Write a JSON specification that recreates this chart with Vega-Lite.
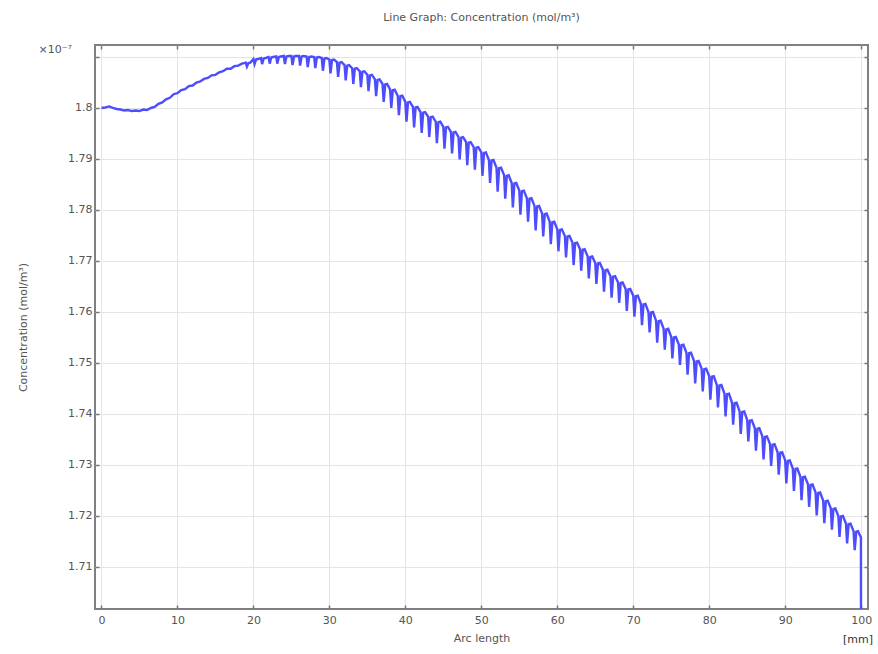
{
  "$schema": "https://vega.github.io/schema/vega-lite/v6.json",
  "width": 773,
  "height": 564,
  "autosize": {"type": "none"},
  "padding": {"left": 95, "top": 45, "right": 10, "bottom": 45},
  "background": "#ffffff",
  "title": {
    "text": "Line Graph: Concentration (mol/m³)",
    "font": "DejaVu Sans",
    "fontSize": 11,
    "fontWeight": "normal",
    "color": "#555555",
    "anchor": "middle",
    "offset": 19
  },
  "config": {
    "view": {"stroke": "#808080", "strokeWidth": 2},
    "axis": {
      "labelFont": "DejaVu Sans",
      "labelFontSize": 11,
      "labelColor": "#555555",
      "titleFont": "DejaVu Sans",
      "titleFontSize": 11,
      "titleFontWeight": "normal",
      "titleColor": "#555555",
      "domain": false,
      "gridColor": "#e4e4e4",
      "gridWidth": 1,
      "tickColor": "#777777",
      "tickWidth": 1.5,
      "tickSize": -4
    }
  },
  "datasets": {
    "profile": [
      {"x": 0, "c": 1.8000}, {"x": 0.5, "c": 1.8001}, {"x": 1.0, "c": 1.8003}, {"x": 1.5, "c": 1.8000},
      {"x": 2.0, "c": 1.7998}, {"x": 2.5, "c": 1.7997}, {"x": 3.0, "c": 1.7995}, {"x": 3.5, "c": 1.7996},
      {"x": 4.0, "c": 1.7994}, {"x": 4.5, "c": 1.7995}, {"x": 5.0, "c": 1.7994}, {"x": 5.5, "c": 1.7997},
      {"x": 6.0, "c": 1.7996}, {"x": 6.5, "c": 1.8000}, {"x": 7.0, "c": 1.8002}, {"x": 7.5, "c": 1.8008},
      {"x": 8.0, "c": 1.8011}, {"x": 8.5, "c": 1.8017}, {"x": 9.0, "c": 1.8020}, {"x": 9.5, "c": 1.8027},
      {"x": 10.0, "c": 1.8029}, {"x": 10.5, "c": 1.8035}, {"x": 11.0, "c": 1.8037}, {"x": 11.5, "c": 1.8043},
      {"x": 12.0, "c": 1.8044}, {"x": 12.5, "c": 1.8050}, {"x": 13.0, "c": 1.8052}, {"x": 13.5, "c": 1.8057},
      {"x": 14.0, "c": 1.8059}, {"x": 14.5, "c": 1.8064}, {"x": 15.0, "c": 1.8065}, {"x": 15.5, "c": 1.8070},
      {"x": 16.0, "c": 1.8072}, {"x": 16.5, "c": 1.8077}, {"x": 17.0, "c": 1.8077}, {"x": 17.5, "c": 1.8082},
      {"x": 18.0, "c": 1.8083}, {"x": 18.5, "c": 1.8087},
      {"x": 19, "c": 1.8089}, {"x": 19.15, "c": 1.8081}, {"x": 19.35, "c": 1.8088}, {"x": 19.6, "c": 1.8089},
      {"x": 20, "c": 1.8096}, {"x": 20.15, "c": 1.8086}, {"x": 20.35, "c": 1.8095}, {"x": 20.6, "c": 1.8096},
      {"x": 21, "c": 1.8098}, {"x": 21.15, "c": 1.8086}, {"x": 21.35, "c": 1.8097}, {"x": 21.6, "c": 1.8098},
      {"x": 22, "c": 1.8100}, {"x": 22.15, "c": 1.8087}, {"x": 22.35, "c": 1.8099}, {"x": 22.6, "c": 1.8100},
      {"x": 23, "c": 1.8101}, {"x": 23.15, "c": 1.8087}, {"x": 23.35, "c": 1.8100}, {"x": 23.6, "c": 1.8101},
      {"x": 24, "c": 1.8102}, {"x": 24.15, "c": 1.8086}, {"x": 24.35, "c": 1.8101}, {"x": 24.6, "c": 1.8102},
      {"x": 25, "c": 1.8102}, {"x": 25.15, "c": 1.8084}, {"x": 25.35, "c": 1.8101}, {"x": 25.6, "c": 1.8102},
      {"x": 26, "c": 1.8102}, {"x": 26.15, "c": 1.8083}, {"x": 26.35, "c": 1.8101}, {"x": 26.6, "c": 1.8102},
      {"x": 27, "c": 1.8101}, {"x": 27.15, "c": 1.8080}, {"x": 27.35, "c": 1.8100}, {"x": 27.6, "c": 1.8101},
      {"x": 28, "c": 1.8100}, {"x": 28.15, "c": 1.8078}, {"x": 28.35, "c": 1.8099}, {"x": 28.6, "c": 1.8100},
      {"x": 29, "c": 1.8098}, {"x": 29.15, "c": 1.8073}, {"x": 29.35, "c": 1.8097}, {"x": 29.6, "c": 1.8098},
      {"x": 30, "c": 1.8095}, {"x": 30.15, "c": 1.8068}, {"x": 30.35, "c": 1.8094}, {"x": 30.6, "c": 1.8095},
      {"x": 31, "c": 1.8090}, {"x": 31.15, "c": 1.8061}, {"x": 31.35, "c": 1.8089}, {"x": 31.6, "c": 1.8090},
      {"x": 32, "c": 1.8084}, {"x": 32.15, "c": 1.8054}, {"x": 32.35, "c": 1.8083}, {"x": 32.6, "c": 1.8084},
      {"x": 33, "c": 1.8078}, {"x": 33.15, "c": 1.8047}, {"x": 33.35, "c": 1.8077}, {"x": 33.6, "c": 1.8078},
      {"x": 34, "c": 1.8072}, {"x": 34.15, "c": 1.8041}, {"x": 34.35, "c": 1.8071}, {"x": 34.6, "c": 1.8072},
      {"x": 35, "c": 1.8065}, {"x": 35.15, "c": 1.8033}, {"x": 35.35, "c": 1.8064}, {"x": 35.6, "c": 1.8065},
      {"x": 36, "c": 1.8056}, {"x": 36.15, "c": 1.8023}, {"x": 36.35, "c": 1.8055}, {"x": 36.6, "c": 1.8056},
      {"x": 37, "c": 1.8047}, {"x": 37.15, "c": 1.8012}, {"x": 37.35, "c": 1.8046}, {"x": 37.6, "c": 1.8047},
      {"x": 38, "c": 1.8036}, {"x": 38.15, "c": 1.8000}, {"x": 38.35, "c": 1.8035}, {"x": 38.6, "c": 1.8036},
      {"x": 39, "c": 1.8024}, {"x": 39.15, "c": 1.7986}, {"x": 39.35, "c": 1.8023}, {"x": 39.6, "c": 1.8024},
      {"x": 40, "c": 1.8012}, {"x": 40.15, "c": 1.7973}, {"x": 40.35, "c": 1.8011}, {"x": 40.6, "c": 1.8012},
      {"x": 41, "c": 1.8002}, {"x": 41.15, "c": 1.7962}, {"x": 41.35, "c": 1.8001}, {"x": 41.6, "c": 1.8002},
      {"x": 42, "c": 1.7992}, {"x": 42.15, "c": 1.7951}, {"x": 42.35, "c": 1.7991}, {"x": 42.6, "c": 1.7992},
      {"x": 43, "c": 1.7983}, {"x": 43.15, "c": 1.7943}, {"x": 43.35, "c": 1.7982}, {"x": 43.6, "c": 1.7983},
      {"x": 44, "c": 1.7973}, {"x": 44.15, "c": 1.7931}, {"x": 44.35, "c": 1.7972}, {"x": 44.6, "c": 1.7973},
      {"x": 45, "c": 1.7963}, {"x": 45.15, "c": 1.7920}, {"x": 45.35, "c": 1.7962}, {"x": 45.6, "c": 1.7963},
      {"x": 46, "c": 1.7953}, {"x": 46.15, "c": 1.7911}, {"x": 46.35, "c": 1.7952}, {"x": 46.6, "c": 1.7953},
      {"x": 47, "c": 1.7943}, {"x": 47.15, "c": 1.7899}, {"x": 47.35, "c": 1.7942}, {"x": 47.6, "c": 1.7943},
      {"x": 48, "c": 1.7933}, {"x": 48.15, "c": 1.7888}, {"x": 48.35, "c": 1.7932}, {"x": 48.6, "c": 1.7933},
      {"x": 49, "c": 1.7923}, {"x": 49.15, "c": 1.7879}, {"x": 49.35, "c": 1.7922}, {"x": 49.6, "c": 1.7923},
      {"x": 50, "c": 1.7913}, {"x": 50.15, "c": 1.7867}, {"x": 50.35, "c": 1.7912}, {"x": 50.6, "c": 1.7913},
      {"x": 51, "c": 1.7898}, {"x": 51.15, "c": 1.7853}, {"x": 51.35, "c": 1.7897}, {"x": 51.6, "c": 1.7898},
      {"x": 52, "c": 1.7883}, {"x": 52.15, "c": 1.7836}, {"x": 52.35, "c": 1.7882}, {"x": 52.6, "c": 1.7883},
      {"x": 53, "c": 1.7868}, {"x": 53.15, "c": 1.7822}, {"x": 53.35, "c": 1.7867}, {"x": 53.6, "c": 1.7868},
      {"x": 54, "c": 1.7853}, {"x": 54.15, "c": 1.7805}, {"x": 54.35, "c": 1.7852}, {"x": 54.6, "c": 1.7853},
      {"x": 55, "c": 1.7838}, {"x": 55.15, "c": 1.7791}, {"x": 55.35, "c": 1.7837}, {"x": 55.6, "c": 1.7838},
      {"x": 56, "c": 1.7823}, {"x": 56.15, "c": 1.7777}, {"x": 56.35, "c": 1.7822}, {"x": 56.6, "c": 1.7823},
      {"x": 57, "c": 1.7808}, {"x": 57.15, "c": 1.7760}, {"x": 57.35, "c": 1.7807}, {"x": 57.6, "c": 1.7808},
      {"x": 58, "c": 1.7793}, {"x": 58.15, "c": 1.7748}, {"x": 58.35, "c": 1.7792}, {"x": 58.6, "c": 1.7793},
      {"x": 59, "c": 1.7777}, {"x": 59.15, "c": 1.7733}, {"x": 59.35, "c": 1.7776}, {"x": 59.6, "c": 1.7777},
      {"x": 60, "c": 1.7762}, {"x": 60.15, "c": 1.7719}, {"x": 60.35, "c": 1.7761}, {"x": 60.6, "c": 1.7762},
      {"x": 61, "c": 1.7749}, {"x": 61.15, "c": 1.7707}, {"x": 61.35, "c": 1.7748}, {"x": 61.6, "c": 1.7749},
      {"x": 62, "c": 1.7736}, {"x": 62.15, "c": 1.7692}, {"x": 62.35, "c": 1.7735}, {"x": 62.6, "c": 1.7736},
      {"x": 63, "c": 1.7723}, {"x": 63.15, "c": 1.7681}, {"x": 63.35, "c": 1.7722}, {"x": 63.6, "c": 1.7723},
      {"x": 64, "c": 1.7709}, {"x": 64.15, "c": 1.7666}, {"x": 64.35, "c": 1.7708}, {"x": 64.6, "c": 1.7709},
      {"x": 65, "c": 1.7696}, {"x": 65.15, "c": 1.7655}, {"x": 65.35, "c": 1.7695}, {"x": 65.6, "c": 1.7696},
      {"x": 66, "c": 1.7683}, {"x": 66.15, "c": 1.7640}, {"x": 66.35, "c": 1.7682}, {"x": 66.6, "c": 1.7683},
      {"x": 67, "c": 1.7670}, {"x": 67.15, "c": 1.7628}, {"x": 67.35, "c": 1.7669}, {"x": 67.6, "c": 1.7670},
      {"x": 68, "c": 1.7658}, {"x": 68.15, "c": 1.7618}, {"x": 68.35, "c": 1.7657}, {"x": 68.6, "c": 1.7658},
      {"x": 69, "c": 1.7645}, {"x": 69.15, "c": 1.7602}, {"x": 69.35, "c": 1.7644}, {"x": 69.6, "c": 1.7645},
      {"x": 70, "c": 1.7632}, {"x": 70.15, "c": 1.7591}, {"x": 70.35, "c": 1.7631}, {"x": 70.6, "c": 1.7632},
      {"x": 71, "c": 1.7616}, {"x": 71.15, "c": 1.7574}, {"x": 71.35, "c": 1.7615}, {"x": 71.6, "c": 1.7616},
      {"x": 72, "c": 1.7600}, {"x": 72.15, "c": 1.7560}, {"x": 72.35, "c": 1.7599}, {"x": 72.6, "c": 1.7600},
      {"x": 73, "c": 1.7583}, {"x": 73.15, "c": 1.7540}, {"x": 73.35, "c": 1.7582}, {"x": 73.6, "c": 1.7583},
      {"x": 74, "c": 1.7567}, {"x": 74.15, "c": 1.7526}, {"x": 74.35, "c": 1.7566}, {"x": 74.6, "c": 1.7567},
      {"x": 75, "c": 1.7551}, {"x": 75.15, "c": 1.7509}, {"x": 75.35, "c": 1.7550}, {"x": 75.6, "c": 1.7551},
      {"x": 76, "c": 1.7536}, {"x": 76.15, "c": 1.7496}, {"x": 76.35, "c": 1.7535}, {"x": 76.6, "c": 1.7536},
      {"x": 77, "c": 1.7520}, {"x": 77.15, "c": 1.7477}, {"x": 77.35, "c": 1.7519}, {"x": 77.6, "c": 1.7520},
      {"x": 78, "c": 1.7504}, {"x": 78.15, "c": 1.7460}, {"x": 78.35, "c": 1.7503}, {"x": 78.6, "c": 1.7504},
      {"x": 79, "c": 1.7489}, {"x": 79.15, "c": 1.7444}, {"x": 79.35, "c": 1.7488}, {"x": 79.6, "c": 1.7489},
      {"x": 80, "c": 1.7474}, {"x": 80.15, "c": 1.7428}, {"x": 80.35, "c": 1.7473}, {"x": 80.6, "c": 1.7474},
      {"x": 81, "c": 1.7457}, {"x": 81.15, "c": 1.7413}, {"x": 81.35, "c": 1.7456}, {"x": 81.6, "c": 1.7457},
      {"x": 82, "c": 1.7440}, {"x": 82.15, "c": 1.7395}, {"x": 82.35, "c": 1.7439}, {"x": 82.6, "c": 1.7440},
      {"x": 83, "c": 1.7422}, {"x": 83.15, "c": 1.7379}, {"x": 83.35, "c": 1.7421}, {"x": 83.6, "c": 1.7422},
      {"x": 84, "c": 1.7405}, {"x": 84.15, "c": 1.7361}, {"x": 84.35, "c": 1.7404}, {"x": 84.6, "c": 1.7405},
      {"x": 85, "c": 1.7388}, {"x": 85.15, "c": 1.7346}, {"x": 85.35, "c": 1.7387}, {"x": 85.6, "c": 1.7388},
      {"x": 86, "c": 1.7372}, {"x": 86.15, "c": 1.7328}, {"x": 86.35, "c": 1.7371}, {"x": 86.6, "c": 1.7372},
      {"x": 87, "c": 1.7356}, {"x": 87.15, "c": 1.7311}, {"x": 87.35, "c": 1.7355}, {"x": 87.6, "c": 1.7356},
      {"x": 88, "c": 1.7341}, {"x": 88.15, "c": 1.7298}, {"x": 88.35, "c": 1.7340}, {"x": 88.6, "c": 1.7341},
      {"x": 89, "c": 1.7325}, {"x": 89.15, "c": 1.7281}, {"x": 89.35, "c": 1.7324}, {"x": 89.6, "c": 1.7325},
      {"x": 90, "c": 1.7309}, {"x": 90.15, "c": 1.7264}, {"x": 90.35, "c": 1.7308}, {"x": 90.6, "c": 1.7309},
      {"x": 91, "c": 1.7293}, {"x": 91.15, "c": 1.7249}, {"x": 91.35, "c": 1.7292}, {"x": 91.6, "c": 1.7293},
      {"x": 92, "c": 1.7277}, {"x": 92.15, "c": 1.7231}, {"x": 92.35, "c": 1.7276}, {"x": 92.6, "c": 1.7277},
      {"x": 93, "c": 1.7262}, {"x": 93.15, "c": 1.7218}, {"x": 93.35, "c": 1.7261}, {"x": 93.6, "c": 1.7262},
      {"x": 94, "c": 1.7246}, {"x": 94.15, "c": 1.7201}, {"x": 94.35, "c": 1.7245}, {"x": 94.6, "c": 1.7246},
      {"x": 95, "c": 1.7230}, {"x": 95.15, "c": 1.7186}, {"x": 95.35, "c": 1.7229}, {"x": 95.6, "c": 1.7230},
      {"x": 96, "c": 1.7215}, {"x": 96.15, "c": 1.7173}, {"x": 96.35, "c": 1.7214}, {"x": 96.6, "c": 1.7215},
      {"x": 97, "c": 1.7200}, {"x": 97.15, "c": 1.7159}, {"x": 97.35, "c": 1.7199}, {"x": 97.6, "c": 1.7200},
      {"x": 98, "c": 1.7185}, {"x": 98.15, "c": 1.7146}, {"x": 98.35, "c": 1.7184}, {"x": 98.6, "c": 1.7185},
      {"x": 99, "c": 1.7170}, {"x": 99.15, "c": 1.7133}, {"x": 99.35, "c": 1.7169}, {"x": 99.6, "c": 1.7170},
      {"x": 99.8, "c": 1.7163}, {"x": 99.97, "c": 1.7158}, {"x": 99.98, "c": 1.7000}
    ],
    "corners": [
      {"x": -0.85, "c": 1.70176},
      {"x": 100.9, "c": 1.81235}
    ]
  },
  "layer": [
    {
      "data": {"name": "profile"},
      "mark": {"type": "line", "color": "#4d4dff", "strokeWidth": 2.4, "clip": true},
      "encoding": {
        "x": {
          "field": "x",
          "type": "quantitative",
          "scale": {"domain": [-0.85, 100.9], "nice": false, "zero": false},
          "axis": {
            "title": "Arc length",
            "values": [0, 10, 20, 30, 40, 50, 60, 70, 80, 90, 100],
            "grid": true,
            "labelPadding": 9,
            "titlePadding": 7
          }
        },
        "y": {
          "field": "c",
          "type": "quantitative",
          "scale": {"domain": [1.70176, 1.81235], "nice": false, "zero": false},
          "axis": {
            "title": "Concentration (mol/m³)",
            "values": [1.71, 1.72, 1.73, 1.74, 1.75, 1.76, 1.77, 1.78, 1.79, 1.8, 1.81],
            "labelExpr": "datum.value > 1.805 ? '' : format(datum.value, '.3~r')",
            "grid": true,
            "labelPadding": 7,
            "titlePadding": 39
          }
        },
        "order": {"value": null}
      }
    },
    {
      "data": {"name": "corners"},
      "mark": {"type": "point", "opacity": 0},
      "encoding": {
        "x": {
          "field": "x",
          "type": "quantitative",
          "axis": {
            "orient": "top",
            "title": null,
            "labels": false,
            "grid": false,
            "values": [0, 10, 20, 30, 40, 50, 60, 70, 80, 90, 100]
          }
        },
        "y": {
          "field": "c",
          "type": "quantitative",
          "axis": {
            "orient": "right",
            "title": null,
            "labels": false,
            "grid": false,
            "values": [1.71, 1.72, 1.73, 1.74, 1.75, 1.76, 1.77, 1.78, 1.79, 1.8, 1.81]
          }
        }
      }
    },
    {
      "data": {"values": [{"t": "×10⁻⁷"}]},
      "mark": {
        "type": "text",
        "font": "DejaVu Sans",
        "fontSize": 11,
        "color": "#555555",
        "align": "right",
        "baseline": "middle",
        "dx": -23,
        "dy": 5
      },
      "encoding": {
        "x": {"datum": -0.85, "type": "quantitative", "axis": null},
        "y": {"datum": 1.81235, "type": "quantitative", "axis": null},
        "text": {"field": "t"}
      }
    },
    {
      "data": {"values": [{"t": "[mm]"}]},
      "mark": {
        "type": "text",
        "font": "DejaVu Sans",
        "fontSize": 11,
        "color": "#333333",
        "align": "right",
        "baseline": "top",
        "dx": 5,
        "dy": 25
      },
      "encoding": {
        "x": {"datum": 100.9, "type": "quantitative", "axis": null},
        "y": {"datum": 1.70176, "type": "quantitative", "axis": null},
        "text": {"field": "t"}
      }
    }
  ],
  "resolve": {"axis": {"x": "independent", "y": "independent"}}
}
